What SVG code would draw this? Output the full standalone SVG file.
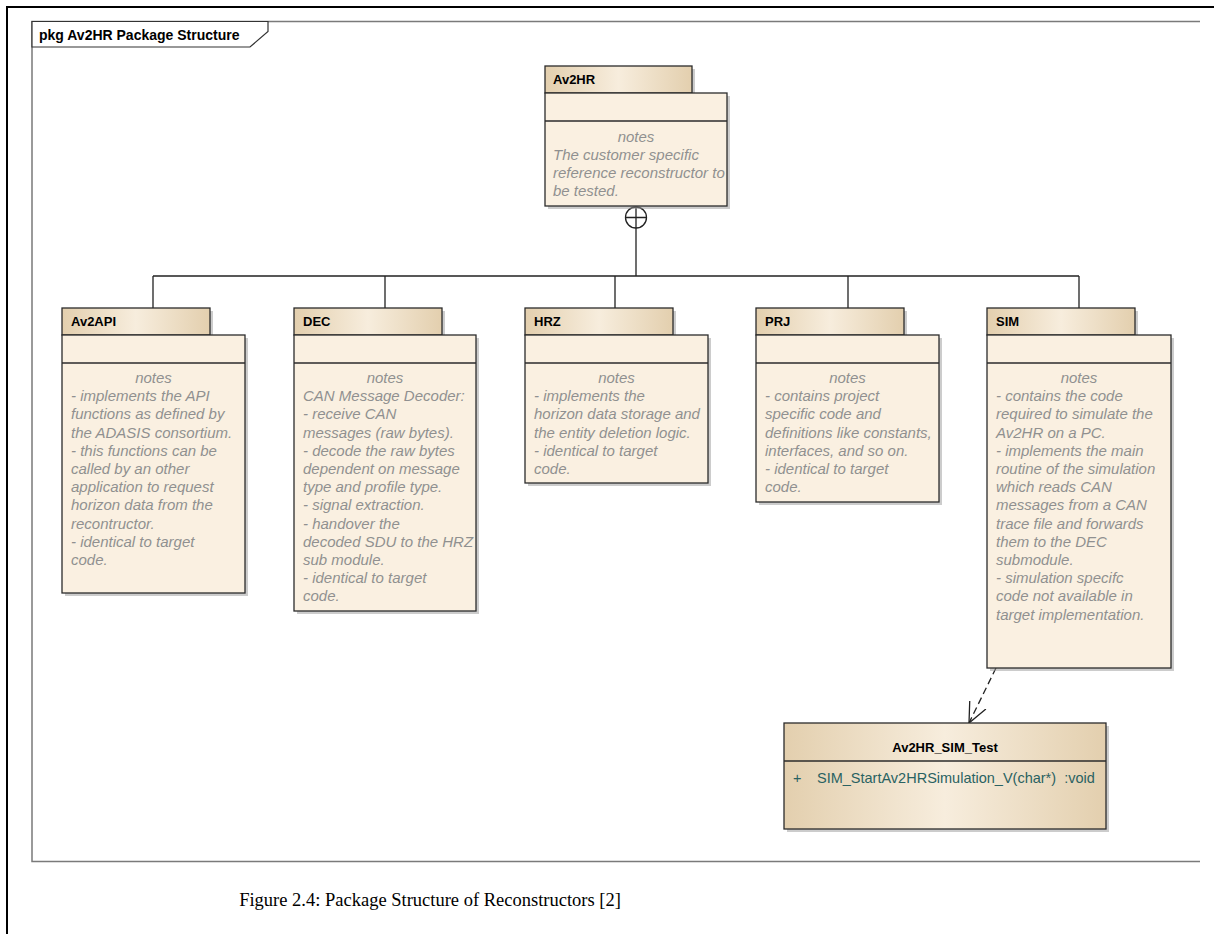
<svg xmlns="http://www.w3.org/2000/svg" width="1214" height="934" viewBox="0 0 1214 934">
<style>
.tab{fill:url(#tanGrad);stroke:#2b2b2b;stroke-width:1.3}
.body{fill:#faf0e1;stroke:#2b2b2b;stroke-width:1.3}
.shadow{fill:#9a9a9a;opacity:0.5}
.sep{stroke:#2b2b2b;stroke-width:1.3}
.label{font-family:"Liberation Sans",Arial,sans-serif;font-weight:bold;font-size:13px;fill:#000}
.note{font-family:"Liberation Sans",Arial,sans-serif;font-style:italic;font-size:15px;fill:#909090}
.notehead{text-anchor:middle}
.conn{fill:none;stroke:#222;stroke-width:1.3}
</style>
<defs>
<linearGradient id="tanGrad" x1="0" y1="0" x2="1" y2="0">
<stop offset="0" stop-color="#e3cfae"/>
<stop offset="0.5" stop-color="#f7eddd"/>
<stop offset="1" stop-color="#e3cfae"/>
</linearGradient>
<marker id="openArrow" viewBox="0 0 20 20" refX="20" refY="10" markerWidth="20" markerHeight="20" markerUnits="userSpaceOnUse" orient="auto">
<path d="M0,1 L20,10 L0,19" fill="none" stroke="#222" stroke-width="1.3" stroke-dasharray="none"/>
</marker>
</defs>
<rect x="0" y="0" width="1214" height="934" fill="#ffffff"/>
<g id="page-border">
<path d="M1214,7 H7 V934" fill="none" stroke="#000" stroke-width="2"/>
</g>
<g id="frame">
<path d="M1200,21.5 H32 V861.5 H1200" fill="none" stroke="#7a7a7a" stroke-width="1.5"/>
<path d="M32,21.5 H268 V31.5 L250,47 H32 Z" fill="#ffffff" stroke="#333" stroke-width="1.2"/>
<text x="39" y="40" font-family="Liberation Sans,Arial,sans-serif" font-weight="bold" font-size="14" fill="#000">pkg Av2HR Package Structure</text>
</g>
<g id="connectors">
<path class="conn" d="M636,228 V276 M153,276 H1079 M153,276 V308 M385,276 V308 M615,276 V308 M848,276 V308 M1079,276 V308"/>
<circle cx="636" cy="217.5" r="10.5" fill="#ffffff" stroke="#222" stroke-width="1.3"/>
<path d="M625.5,217.5 H646.5 M636,207 V228" stroke="#222" stroke-width="1.3"/>
<line x1="996" y1="668" x2="969" y2="723" stroke="#222" stroke-width="1.3" stroke-dasharray="7,4" marker-end="url(#openArrow)"/>
</g>
<g id="pkg-Av2HR">
<rect class="shadow" x="548" y="69" width="147" height="27"/>
<rect class="shadow" x="548" y="96" width="182" height="113"/>
<rect class="tab" x="545" y="66" width="147" height="27"/>
<rect class="body" x="545" y="93" width="182" height="113"/>
<line class="sep" x1="545" y1="121" x2="727" y2="121"/>
<text class="label" x="553" y="84">Av2HR</text>
<text class="note notehead" x="636" y="142">notes</text>
<text class="note" x="553" y="160">The customer specific</text>
<text class="note" x="553" y="178">reference reconstructor to</text>
<text class="note" x="553" y="196">be tested.</text>
</g>
<g id="pkg-Av2API">
<rect class="shadow" x="65" y="311" width="148" height="27"/>
<rect class="shadow" x="65" y="338" width="183" height="258"/>
<rect class="tab" x="62" y="308" width="148" height="27"/>
<rect class="body" x="62" y="335" width="183" height="258"/>
<line class="sep" x1="62" y1="363" x2="245" y2="363"/>
<text class="label" x="71" y="326">Av2API</text>
<text class="note notehead" x="153.5" y="383">notes</text>
<text class="note" x="71" y="401.2">- implements the API</text>
<text class="note" x="71" y="419.4">functions as defined by</text>
<text class="note" x="71" y="437.6">the ADASIS consortium.</text>
<text class="note" x="71" y="455.8">- this functions can be</text>
<text class="note" x="71" y="474">called by an other</text>
<text class="note" x="71" y="492.2">application to request</text>
<text class="note" x="71" y="510.4">horizon data from the</text>
<text class="note" x="71" y="528.6">recontructor.</text>
<text class="note" x="71" y="546.8">- identical to target</text>
<text class="note" x="71" y="565">code.</text>
</g>
<g id="pkg-DEC">
<rect class="shadow" x="297" y="311" width="148" height="27"/>
<rect class="shadow" x="297" y="338" width="182" height="276"/>
<rect class="tab" x="294" y="308" width="148" height="27"/>
<rect class="body" x="294" y="335" width="182" height="276"/>
<line class="sep" x1="294" y1="363" x2="476" y2="363"/>
<text class="label" x="303" y="326">DEC</text>
<text class="note notehead" x="385" y="383">notes</text>
<text class="note" x="303" y="401.2">CAN Message Decoder:</text>
<text class="note" x="303" y="419.4">- receive CAN</text>
<text class="note" x="303" y="437.6">messages (raw bytes).</text>
<text class="note" x="303" y="455.8">- decode the raw bytes</text>
<text class="note" x="303" y="474">dependent on message</text>
<text class="note" x="303" y="492.2">type and profile type.</text>
<text class="note" x="303" y="510.4">- signal extraction.</text>
<text class="note" x="303" y="528.6">- handover the</text>
<text class="note" x="303" y="546.8">decoded SDU to the HRZ</text>
<text class="note" x="303" y="565">sub module.</text>
<text class="note" x="303" y="583.2">- identical to target</text>
<text class="note" x="303" y="601.4">code.</text>
</g>
<g id="pkg-HRZ">
<rect class="shadow" x="528" y="311" width="148" height="27"/>
<rect class="shadow" x="528" y="338" width="183" height="148"/>
<rect class="tab" x="525" y="308" width="148" height="27"/>
<rect class="body" x="525" y="335" width="183" height="148"/>
<line class="sep" x1="525" y1="363" x2="708" y2="363"/>
<text class="label" x="534" y="326">HRZ</text>
<text class="note notehead" x="616.5" y="383">notes</text>
<text class="note" x="534" y="401.2">- implements the</text>
<text class="note" x="534" y="419.4">horizon data storage and</text>
<text class="note" x="534" y="437.6">the entity deletion logic.</text>
<text class="note" x="534" y="455.8">- identical to target</text>
<text class="note" x="534" y="474">code.</text>
</g>
<g id="pkg-PRJ">
<rect class="shadow" x="759" y="311" width="148" height="27"/>
<rect class="shadow" x="759" y="338" width="183" height="167"/>
<rect class="tab" x="756" y="308" width="148" height="27"/>
<rect class="body" x="756" y="335" width="183" height="167"/>
<line class="sep" x1="756" y1="363" x2="939" y2="363"/>
<text class="label" x="765" y="326">PRJ</text>
<text class="note notehead" x="847.5" y="383">notes</text>
<text class="note" x="765" y="401.2">- contains project</text>
<text class="note" x="765" y="419.4">specific code and</text>
<text class="note" x="765" y="437.6">definitions like constants,</text>
<text class="note" x="765" y="455.8">interfaces, and so on.</text>
<text class="note" x="765" y="474">- identical to target</text>
<text class="note" x="765" y="492.2">code.</text>
</g>
<g id="pkg-SIM">
<rect class="shadow" x="990" y="311" width="148" height="27"/>
<rect class="shadow" x="990" y="338" width="184" height="333"/>
<rect class="tab" x="987" y="308" width="148" height="27"/>
<rect class="body" x="987" y="335" width="184" height="333"/>
<line class="sep" x1="987" y1="363" x2="1171" y2="363"/>
<text class="label" x="996" y="326">SIM</text>
<text class="note notehead" x="1079" y="383">notes</text>
<text class="note" x="996" y="401.2">- contains the code</text>
<text class="note" x="996" y="419.4">required to simulate the</text>
<text class="note" x="996" y="437.6">Av2HR on a PC.</text>
<text class="note" x="996" y="455.8">- implements the main</text>
<text class="note" x="996" y="474">routine of the simulation</text>
<text class="note" x="996" y="492.2">which reads CAN</text>
<text class="note" x="996" y="510.4">messages from a CAN</text>
<text class="note" x="996" y="528.6">trace file and forwards</text>
<text class="note" x="996" y="546.8">them to the DEC</text>
<text class="note" x="996" y="565">submodule.</text>
<text class="note" x="996" y="583.2">- simulation specifc</text>
<text class="note" x="996" y="601.4">code not available in</text>
<text class="note" x="996" y="619.6">target implementation.</text>
</g>
<g id="class-Av2HR_SIM_Test">
<rect class="shadow" x="787" y="726" width="322" height="106"/>
<rect x="784" y="723" width="322" height="106" fill="url(#tanGrad)" stroke="#2b2b2b" stroke-width="1.3"/>
<line class="sep" x1="784" y1="761" x2="1106" y2="761"/>
<text x="945" y="752" text-anchor="middle" font-family="Liberation Sans,Arial,sans-serif" font-weight="bold" font-size="13" fill="#000">Av2HR_SIM_Test</text>
<text x="793" y="783" font-family="Liberation Sans,Arial,sans-serif" font-size="14.5" fill="#2a6262">+</text>
<text x="817" y="783" font-family="Liberation Sans,Arial,sans-serif" font-size="14.5" fill="#2a6262" xml:space="preserve">SIM_StartAv2HRSimulation_V(char*)  :void</text>
</g>
<g id="caption">
<text x="430" y="906" text-anchor="middle" font-family="Liberation Serif,Times New Roman,serif" font-size="18.5" fill="#000">Figure 2.4: Package Structure of Reconstructors [2]</text>
</g>
</svg>
